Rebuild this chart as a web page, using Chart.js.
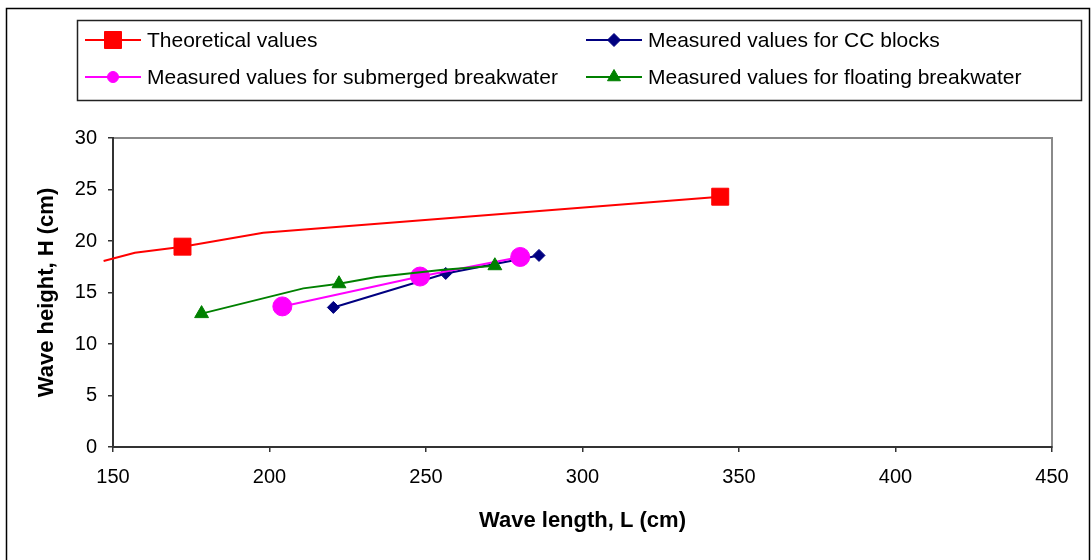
<!DOCTYPE html>
<html>
<head>
<meta charset="utf-8">
<script src="https://cdn.jsdelivr.net/npm/chart.js@4.4.1/dist/chart.umd.min.js"></script>
<style>
  html, body { margin: 0; padding: 0; background: #ffffff; }
  canvas { display: block; }
</style>
</head>
<body>
<canvas id="chart" width="1092" height="560"></canvas>
<script>
// Wave length L (cm) against wave height H (cm)
const theoryCurveL = [147, 157, 172.2, 198, 344];
const theoryCurveH = [18.05, 18.85, 19.45, 20.8, 24.3];
const theoryL = [172.2, 344];
const theoryH = [19.45, 24.3];

const ccL = [220.4, 256.3, 286.1];
const ccH = [13.55, 16.85, 18.6];

const submergedL = [204.1, 248.1, 280.1];
const submergedH = [13.65, 16.55, 18.45];

const floatingCurveL = [178.3, 210.8, 222.2, 234.2, 255.5, 272.0];
const floatingCurveH = [12.95, 15.4, 15.85, 16.5, 17.2, 17.6];
const floatingL = [178.3, 222.2, 272.0];
const floatingH = [12.95, 15.85, 17.6];

const xTicks = [150, 200, 250, 300, 350, 400, 450];
const yTicks = [0, 5, 10, 15, 20, 25, 30];

const seriesNames = [
  'Theoretical values',
  'Measured values for CC blocks',
  'Measured values for submerged breakwater',
  'Measured values for floating breakwater'
];

const FONT = 'Liberation Sans, Arial, sans-serif';
const RED = '#ff0000', NAVY = '#000080', MAGENTA = '#ff00ff', GREEN = '#008000';

const pts = (xs, ys) => xs.map((x, i) => ({ x: x, y: ys[i] }));

// Outer frame and the grey top/right edges of the plot area
const frame = {
  id: 'frame',
  beforeDraw(chart) {
    const ctx = chart.ctx;
    const a = chart.chartArea;
    ctx.save();
    ctx.strokeStyle = '#000000';
    ctx.lineWidth = 1.5;
    ctx.strokeRect(6.5, 8.5, 1083, 560);
    ctx.strokeStyle = '#8a8a8a';
    ctx.lineWidth = 2;
    ctx.strokeRect(a.left, a.top, a.right - a.left, a.bottom - a.top);
    ctx.restore();
  }
};

// Boxed two-column legend with line + marker samples
const boxLegend = {
  id: 'boxLegend',
  afterDraw(chart, args, opts) {
    const ctx = chart.ctx;
    ctx.save();
    ctx.strokeStyle = '#222222';
    ctx.lineWidth = 1.5;
    ctx.strokeRect(opts.box.x, opts.box.y, opts.box.w, opts.box.h);
    ctx.font = opts.fontSize + 'px ' + FONT;
    ctx.textBaseline = 'middle';
    ctx.textAlign = 'left';
    opts.items.forEach(it => {
      const x0 = opts.cols[it.col], y = opts.rows[it.row];
      ctx.strokeStyle = it.color;
      ctx.lineWidth = 2;
      ctx.beginPath();
      ctx.moveTo(x0, y);
      ctx.lineTo(x0 + opts.sample, y);
      ctx.stroke();
      ctx.fillStyle = it.color;
      ctx.lineWidth = 1;
      Chart.helpers.drawPoint(ctx, { pointStyle: it.style, radius: it.radius, rotation: 0, borderWidth: 1 },
        x0 + opts.sample / 2, y);
      ctx.fillStyle = '#000000';
      ctx.fillText(it.text, x0 + opts.sample + 6, y + 1);
    });
    ctx.restore();
  }
};

const tickFont = { family: FONT, size: 20 };
const titleFont = { family: FONT, size: 22, weight: 'bold' };

new Chart(document.getElementById('chart'), {
  type: 'scatter',
  data: {
    datasets: [
      { label: seriesNames[0], data: pts(theoryCurveL, theoryCurveH), showLine: true,
        borderColor: RED, borderWidth: 2, pointRadius: 0, order: 7, clip: false },
      { label: seriesNames[0], data: pts(theoryL, theoryH), showLine: false,
        pointStyle: 'rect', pointRadius: 12, backgroundColor: RED, borderColor: RED,
        pointBorderWidth: 1, order: 6 },
      { label: seriesNames[1], data: pts(ccL, ccH), showLine: true,
        borderColor: NAVY, backgroundColor: NAVY, borderWidth: 2,
        pointStyle: 'rectRot', pointRadius: 6, pointBorderWidth: 1, order: 5 },
      { label: seriesNames[2], data: pts(submergedL, submergedH), showLine: true,
        borderColor: MAGENTA, backgroundColor: MAGENTA, borderWidth: 2,
        pointStyle: 'circle', pointRadius: 9.5, pointBorderWidth: 1, order: 4 },
      { label: seriesNames[3], data: pts(floatingCurveL, floatingCurveH), showLine: true,
        borderColor: GREEN, borderWidth: 2, pointRadius: 0, order: 3 },
      { label: seriesNames[3], data: pts(floatingL, floatingH), showLine: false,
        pointStyle: 'triangle', pointRadius: 8, backgroundColor: GREEN, borderColor: GREEN,
        pointBorderWidth: 1, order: 2 }
    ]
  },
  options: {
    responsive: false,
    animation: false,
    events: [],
    layout: { padding: { top: 138, right: 40, bottom: 0, left: 0 } },
    plugins: {
      legend: { display: false },
      tooltip: { enabled: false },
      boxLegend: {
        box: { x: 77.5, y: 20.5, w: 1004, h: 80 },
        fontSize: 21,
        cols: [85, 586],
        rows: [40, 77],
        sample: 56,
        items: [
          { text: seriesNames[0], col: 0, row: 0, color: RED, style: 'rect', radius: 12 },
          { text: seriesNames[1], col: 1, row: 0, color: NAVY, style: 'rectRot', radius: 6.5 },
          { text: seriesNames[2], col: 0, row: 1, color: MAGENTA, style: 'circle', radius: 5.5 },
          { text: seriesNames[3], col: 1, row: 1, color: GREEN, style: 'triangle', radius: 7.5 }
        ]
      }
    },
    scales: {
      x: {
        type: 'linear', min: 150, max: 450,
        afterBuildTicks: s => { s.ticks = xTicks.map(v => ({ value: v })); },
        afterFit: s => { s.height = 113; },
        ticks: { font: tickFont, color: '#000000', padding: 13, maxRotation: 0, autoSkip: false },
        grid: { drawOnChartArea: false, drawTicks: true, tickLength: 5, color: '#333333', lineWidth: 1.5 },
        border: { color: '#333333', width: 2 },
        title: { display: true, text: 'Wave length, L (cm)', font: titleFont, color: '#000000',
                 padding: { top: 26, bottom: 26 } }
      },
      y: {
        type: 'linear', min: 0, max: 30,
        afterBuildTicks: s => { s.ticks = yTicks.map(v => ({ value: v })); },
        afterFit: s => { s.width = 113; },
        ticks: { font: tickFont, color: '#000000', padding: 11 },
        grid: { drawOnChartArea: false, drawTicks: true, tickLength: 5, color: '#333333', lineWidth: 1.5 },
        border: { color: '#333333', width: 2 },
        title: { display: true, text: 'Wave height, H (cm)', font: titleFont, color: '#000000',
                 padding: { top: 34, bottom: 34 } }
      }
    }
  },
  plugins: [frame, boxLegend]
});
</script>
</body>
</html>
